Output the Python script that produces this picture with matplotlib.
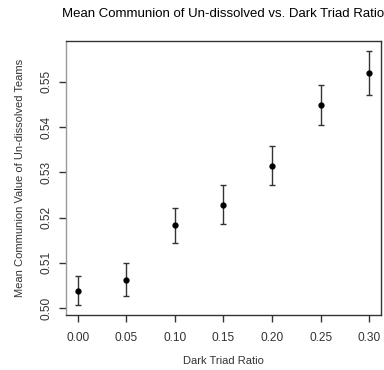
import matplotlib
matplotlib.use("Agg")
import matplotlib.pyplot as plt

ratio = [0.00, 0.05, 0.10, 0.15, 0.20, 0.25, 0.30]
mean = [0.5038, 0.5062, 0.5183, 0.5228, 0.5315, 0.5449, 0.5520]
upper = [0.5071, 0.5100, 0.5222, 0.5271, 0.5358, 0.5494, 0.5568]
lower = [0.5007, 0.5027, 0.5144, 0.5185, 0.5273, 0.5404, 0.5470]

xticks = [0.00, 0.05, 0.10, 0.15, 0.20, 0.25, 0.30]
yticks = [0.50, 0.51, 0.52, 0.53, 0.54, 0.55]

plt.rcParams['font.family'] = ['Liberation Sans', 'DejaVu Sans']

fig = plt.figure(figsize=(3.84, 3.70), dpi=100)
ax = fig.add_axes([0.172, 0.149, 0.82, 0.740])

err = [[m - l for m, l in zip(mean, lower)], [u - m for m, u in zip(mean, upper)]]
ax.errorbar(ratio, mean, yerr=err, fmt="o", color="black", ecolor="#333333",
            elinewidth=1, capsize=2.5, capthick=1, markersize=3.5)

ax.set_xlim(-0.012, 0.312)
ax.set_ylim(0.4985, 0.5590)
ax.set_xticks(xticks)
ax.set_xticklabels(["%.2f" % v for v in xticks])
ax.set_yticks(yticks)
ax.set_yticklabels(["%.2f" % v for v in yticks], rotation=90, va="center")

for s in ax.spines.values():
	s.set_color("#333333")
	s.set_linewidth(1)
ax.spines["left"].set_color("#999999")
ax.tick_params(direction="out", length=5, width=1, color="#333333",
               labelsize=8.6, labelcolor="#333333")
ax.tick_params(axis="x", pad=7)
ax.tick_params(axis="y", pad=5)

ax.set_xlabel("Dark Triad Ratio", fontsize=8, color="#333333", labelpad=9)
ax.set_ylabel("Mean Communion Value of Un-dissolved Teams", fontsize=8,
              color="#333333", labelpad=11)
ax.set_title("Mean Communion of Un-dissolved vs. Dark Triad Ratio",
             fontsize=9.5, pad=17)

fig.savefig("out.png", dpi=100)
